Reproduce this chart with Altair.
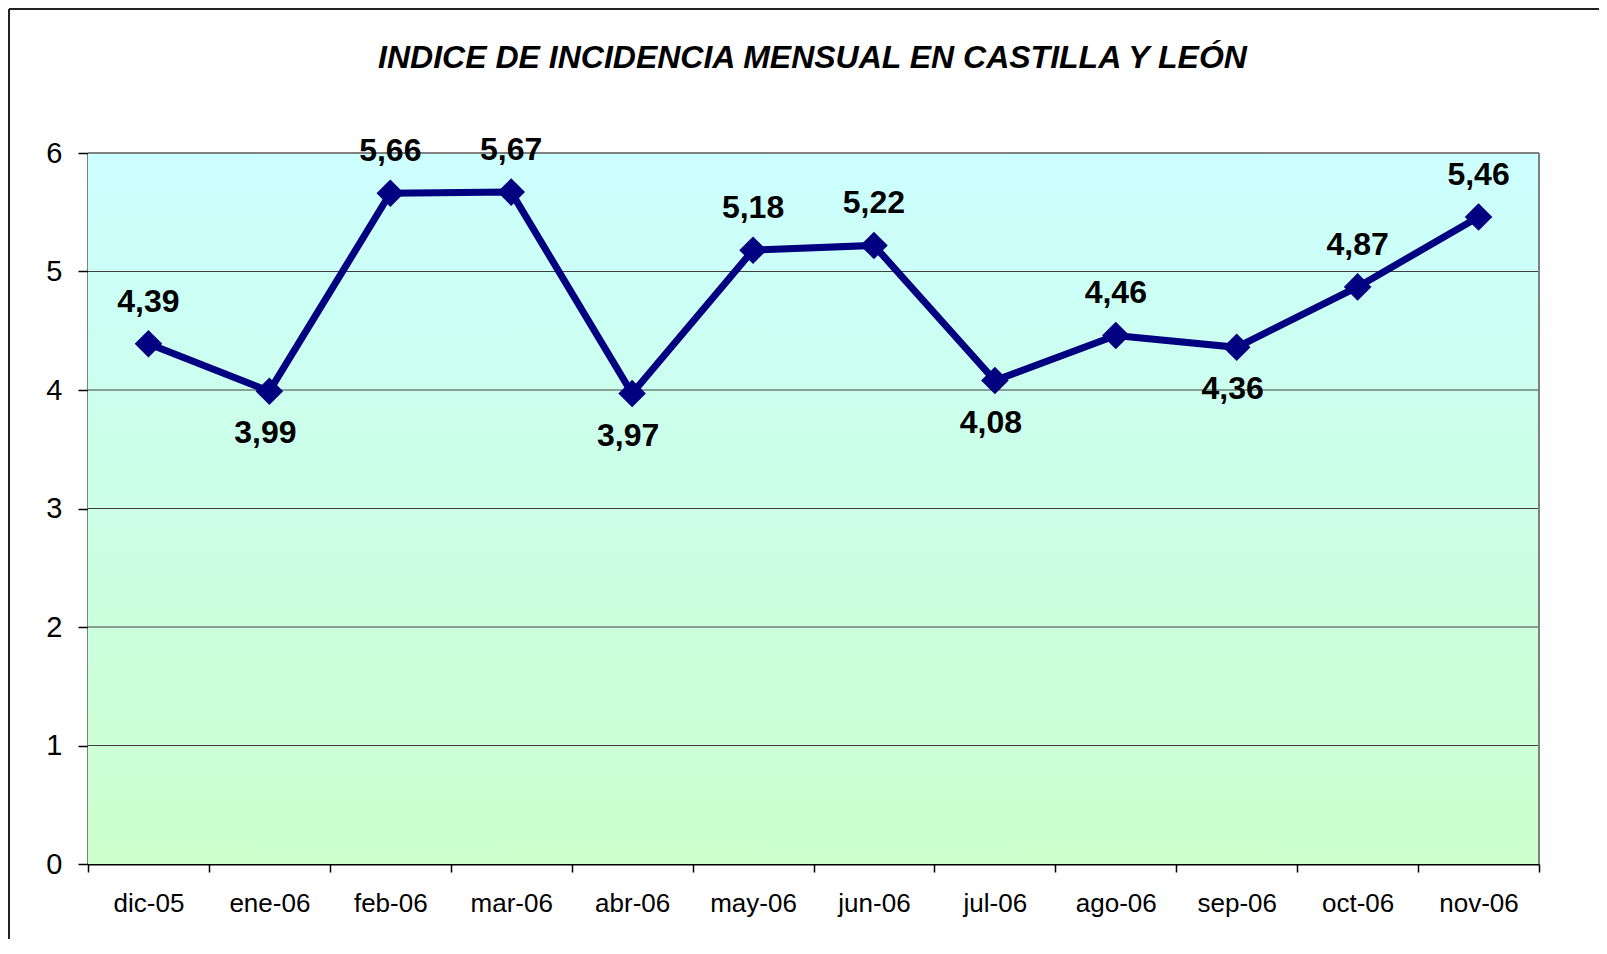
import altair as alt
import pandas as pd

months = ["dic-05", "ene-06", "feb-06", "mar-06", "abr-06", "may-06",
          "jun-06", "jul-06", "ago-06", "sep-06", "oct-06", "nov-06"]
values = [4.39, 3.99, 5.66, 5.67, 3.97, 5.18, 5.22, 4.08, 4.46, 4.36, 4.87, 5.46]
y_ticks = [0, 1, 2, 3, 4, 5, 6]
grid_vals = [1, 2, 3, 4, 5]
title_text = "INDICE DE INCIDENCIA MENSUAL EN CASTILLA Y LEÓN"

W, H = 1451, 711
FONT = "Liberation Sans"

# label below a point when it is a local minimum
pos = []
for i, v in enumerate(values):
    nb = []
    if i > 0:
        nb.append(values[i - 1])
    if i < len(values) - 1:
        nb.append(values[i + 1])
    pos.append("below" if all(v < n for n in nb) else "above")

df = pd.DataFrame({
    "mes": months,
    "valor": values,
    "etiqueta": [f"{v:.2f}".replace(".", ",") for v in values],
    "pos": pos,
})

x_enc = alt.X("mes:N", sort=months, title=None,
              scale=alt.Scale(type="band", paddingInner=0, paddingOuter=0),
              axis=alt.Axis(labelFont=FONT, labelFontSize=26, labelColor="#000",
                            labelAngle=0, labelBaseline="alphabetic", labelPadding=39,
                            tickSize=8, tickColor="#000", tickWidth=1.5, tickBand="extent",
                            domainColor="#000", domainWidth=2, grid=False))
y_enc = alt.Y("valor:Q", title=None,
              scale=alt.Scale(domain=[0, 6], nice=False, zero=True),
              axis=alt.Axis(values=y_ticks, format="d", labelFont=FONT, labelFontSize=29,
                            labelColor="#000", labelPadding=16, tickSize=10,
                            tickColor="#000", tickWidth=1.5, domainColor="#000",
                            domainWidth=2, grid=False, labelBaseline="middle"))

one = pd.DataFrame({"k": [0]})

bg = alt.Chart(one).mark_rect(
    color=alt.Gradient(gradient="linear", x1=0, y1=0, x2=0, y2=1,
                       stops=[alt.GradientStop(offset=0, color="#CCFFFF"),
                              alt.GradientStop(offset=1, color="#CCFFCC")])
).encode(x=alt.value(0), x2=alt.value(W), y=alt.value(0), y2=alt.value(H))

grid = alt.Chart(pd.DataFrame({"v": grid_vals})).mark_rule(
    color="#404040", strokeWidth=1
).encode(y=alt.Y("v:Q", title=None, scale=alt.Scale(domain=[0, 6], nice=False)))

frame_top = alt.Chart(one).mark_rule(color="#808080", strokeWidth=2).encode(
    x=alt.value(0), x2=alt.value(W), y=alt.value(0))
frame_right = alt.Chart(one).mark_rule(color="#808080", strokeWidth=2).encode(
    x=alt.value(W), y=alt.value(0), y2=alt.value(H))

line = alt.Chart(df).mark_line(
    color="#000080", strokeWidth=7,
    point=alt.OverlayMarkDef(shape="diamond", size=760, filled=True,
                             color="#000080", opacity=1)
).encode(x=x_enc, y=y_enc)

lab_above = alt.Chart(df).transform_filter(alt.datum.pos == "above").mark_text(
    font=FONT, fontSize=32, fontWeight="bold", color="#000",
    baseline="alphabetic", align="center", dy=-32
).encode(x=alt.X("mes:N", sort=months), y="valor:Q", text="etiqueta:N")

lab_below = alt.Chart(df).transform_filter(alt.datum.pos == "below").mark_text(
    font=FONT, fontSize=32, fontWeight="bold", color="#000",
    baseline="alphabetic", align="center", dy=52, dx=-4
).encode(x=alt.X("mes:N", sort=months), y="valor:Q", text="etiqueta:N")

title = alt.Chart(pd.DataFrame({"t": [title_text]})).mark_text(
    font=FONT, fontSize=32, fontWeight="bold", fontStyle="italic", color="#000",
    baseline="alphabetic", align="center"
).encode(x=alt.value(W / 2 - 1), y=alt.value(-85), text="t:N")

outer_left = alt.Chart(one).mark_rule(color="#222", strokeWidth=2).encode(
    x=alt.value(-79), y=alt.value(-144), y2=alt.value(H + 80))
outer_top = alt.Chart(one).mark_rule(color="#222", strokeWidth=2).encode(
    x=alt.value(-79), x2=alt.value(W + 70), y=alt.value(-144))

chart = alt.layer(
    bg, grid, frame_top, frame_right, line, lab_above, lab_below, title,
    outer_left, outer_top
).properties(
    width=W, height=H,
    autosize=alt.AutoSizeParams(type="none"),
    padding={"left": 80, "top": 145, "right": 60, "bottom": 75},
).configure_view(stroke=None).configure(background="white")

chart.save("out.html", embed_options={"renderer": "svg", "actions": False})
